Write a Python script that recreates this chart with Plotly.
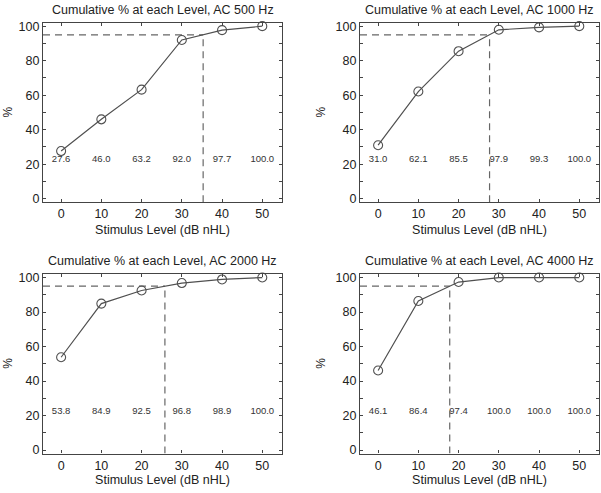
import plotly.graph_objects as go

levels = [0, 10, 20, 30, 40, 50]
freq_labels = ["500 Hz", "1000 Hz", "2000 Hz", "4000 Hz"]
cum_500 = [27.6, 46.0, 63.2, 92.0, 97.7, 100.0]
cum_1000 = [31.0, 62.1, 85.5, 97.9, 99.3, 100.0]
cum_2000 = [53.8, 84.9, 92.5, 96.8, 98.9, 100.0]
cum_4000 = [46.1, 86.4, 97.4, 100.0, 100.0, 100.0]
thresholds = [35.3, 27.7, 25.8, 17.8]
criterion = 95
label_y = 22.5

series = [cum_500, cum_1000, cum_2000, cum_4000]

W, H = 601, 493
# panel boxes in pixels: (left, right, top, bottom)
boxes = [(43, 282, 20, 202), (360, 599, 20, 202), (43, 282, 275, 457), (360, 599, 275, 457)]
ylabel_x = [8, 321, 8, 321]
title_standoff = [4, 4, 0.5, 0.5]
XR = [-4.5, 54.9]
YR = [-2, 102]

LINE = "#505050"
AX = "#444444"
TXT = "#222222"
FONT = "Liberation Sans, Arial, Helvetica, sans-serif"

fig = go.Figure()
layout = dict(width=W, height=H, margin=dict(l=0, r=0, t=0, b=0),
              paper_bgcolor="white", plot_bgcolor="white", showlegend=False,
              font=dict(family=FONT, color=TXT, size=12))
annotations = []

for i, (vals, thr, fl, box) in enumerate(zip(series, thresholds, freq_labels, boxes)):
    n = "" if i == 0 else str(i + 1)
    xa, ya = "x" + n, "y" + n
    l, r, t, b = box
    xd = [l / W, r / W]
    yd = [1 - b / H, 1 - t / H]
    axcommon = dict(showgrid=False, zeroline=False, showline=True, linecolor=AX, linewidth=1.3,
                    mirror="ticks", ticks="inside", ticklen=3, tickcolor=AX, tickwidth=1,
                    tickfont=dict(size=12.5, color=TXT, family=FONT))
    layout["xaxis" + n] = dict(domain=xd, range=XR, anchor=ya, tickvals=levels,
                               ticktext=[str(v) for v in levels],
                               title=dict(text="Stimulus Level (dB nHL)", standoff=title_standoff[i],
                                          font=dict(size=12.5, color=TXT, family=FONT)),
                               **axcommon)
    layout["yaxis" + n] = dict(domain=yd, range=YR, anchor=xa, tick0=0, dtick=20,
                               minor=dict(ticks="inside", dtick=10, ticklen=3, tickcolor=AX),
                               **axcommon)
    # dashed criterion lines
    fig.add_trace(go.Scatter(x=[XR[0], thr], y=[criterion, criterion], mode="lines",
                             line=dict(color="#666666", width=1.2, dash="7px,5px"),
                             xaxis=xa, yaxis=ya, hoverinfo="skip", cliponaxis=False))
    fig.add_trace(go.Scatter(x=[thr, thr], y=[YR[0], criterion], mode="lines",
                             line=dict(color="#666666", width=1.2, dash="7px,5px"),
                             xaxis=xa, yaxis=ya, hoverinfo="skip", cliponaxis=False))
    # data curve
    fig.add_trace(go.Scatter(x=levels, y=vals, mode="lines+markers",
                             line=dict(color=LINE, width=1.2),
                             marker=dict(symbol="circle-open", size=9, color=LINE,
                                         line=dict(width=1.1, color=LINE)),
                             xaxis=xa, yaxis=ya, cliponaxis=False))
    # value labels
    fig.add_trace(go.Scatter(x=levels, y=[label_y] * len(levels), mode="text",
                             text=[f"{v:.1f}" for v in vals], textposition="middle center",
                             textfont=dict(size=9.5, color="#333333", family=FONT),
                             xaxis=xa, yaxis=ya, hoverinfo="skip", cliponaxis=False))
    annotations.append(dict(text=f"Cumulative % at each Level, AC {fl}", xref="paper", yref="paper",
                            x=(l + r) / 2 / W, y=1 - (t - 13) / H, xanchor="center", yanchor="middle",
                            showarrow=False, font=dict(size=12.5, color=TXT, family=FONT)))
    annotations.append(dict(text="%", xref="paper", yref="paper", textangle=-90,
                            x=ylabel_x[i] / W, y=1 - (t + b) / 2 / H, xanchor="center", yanchor="middle",
                            showarrow=False, font=dict(size=12, color=TXT, family=FONT)))

layout["annotations"] = annotations
fig.update_layout(**layout)
fig.write_html("out.html", config={"displayModeBar": False},
               post_script="document.body.style.margin='0';document.body.style.overflow='hidden';")
